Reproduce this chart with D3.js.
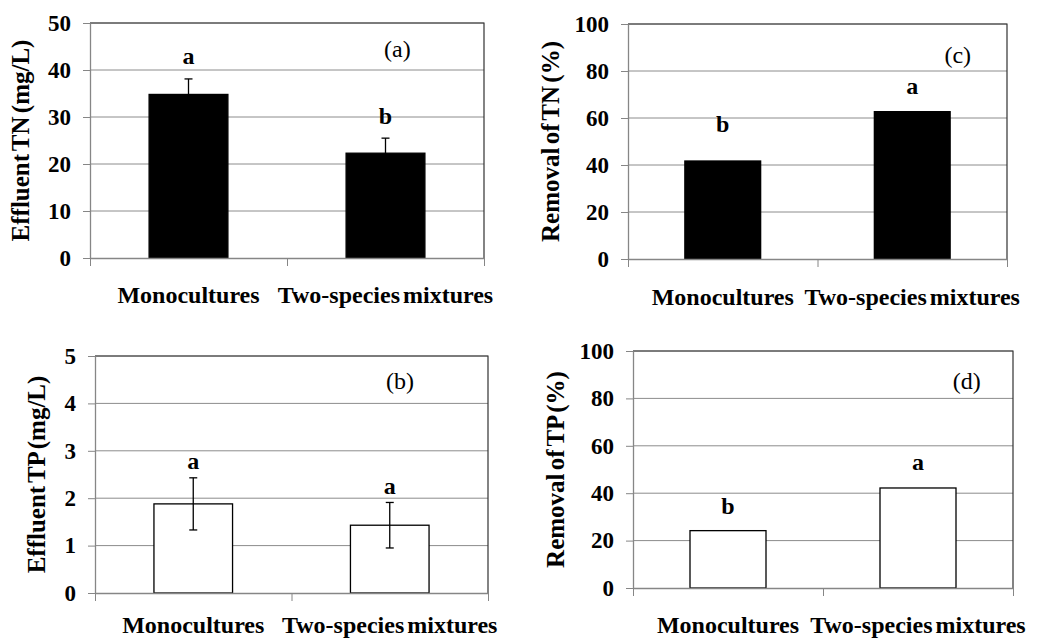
<!DOCTYPE html>
<html>
<head>
<meta charset="utf-8">
<script src="https://cdn.jsdelivr.net/npm/d3@7"></script>
<style>
  body { margin: 0; background: #fff; }
  svg { font-family: 'Liberation Serif', 'Times New Roman', serif; }
</style>
</head>
<body>
<div id="chart"></div>
<script>
// data
const categories = ['Monocultures', 'Two-species mixtures'];

const effluentTN = [34.8, 22.3];
const effluentTNErr = [3.3, 3.2];
const effluentTNLetters = ['a', 'b'];
const effluentTNLetterY = [41.3, 28.5];

const effluentTP = [1.88, 1.43];
const effluentTPErr = [0.55, 0.48];
const effluentTPLetters = ['a', 'a'];
const effluentTPLetterY = [2.61, 2.08];

const removalTN = [41.7, 62.7];
const removalTNLetters = ['b', 'a'];
const removalTNLetterY = [54, 70.2];

const removalTP = [24.2, 42.2];
const removalTPLetters = ['b', 'a'];
const removalTPLetterY = [31.1, 49.7];

const ticksTN = [0, 10, 20, 30, 40, 50];
const ticksTP = [0, 1, 2, 3, 4, 5];
const ticksPct = [0, 20, 40, 60, 80, 100];

let width = 1043, height = 640;
const serif = "'Liberation Serif', 'Times New Roman', serif";

let svg = d3.select('#chart')
            .append('svg')
            .attr('width', width)
            .attr('height', height);

// one panel = one small bar chart
function drawPanel(p) {
    let yscale = d3.scaleLinear()
                   .domain([0, d3.max(p.ticks)])
                   .range([p.bottom, p.top]);

    let xscale = d3.scaleBand()
                   .domain(categories)
                   .range([p.left, p.right])
                   .paddingInner(0.6)
                   .paddingOuter(0.3);

    let g = svg.append('g');

    // gridlines
    g.selectAll('.grid')
     .data(p.ticks.slice(1))
     .enter()
     .append('line')
     .attr('x1', p.left)
     .attr('x2', p.right)
     .attr('y1', d => yscale(d))
     .attr('y2', d => yscale(d))
     .attr('stroke', '#8c8c8c')
     .attr('stroke-width', 1);

    // plot border (top and right are darker)
    g.append('path')
     .attr('d', `M${p.left},${p.top}H${p.right}V${p.bottom}`)
     .attr('fill', 'none')
     .attr('stroke', '#333')
     .attr('stroke-width', 1.2);

    // bars
    g.selectAll('.bar')
     .data(p.values)
     .enter()
     .append('rect')
     .attr('x', (d, i) => xscale(categories[i]))
     .attr('y', d => yscale(d))
     .attr('width', xscale.bandwidth())
     .attr('height', d => p.bottom - yscale(d))
     .attr('fill', p.fill)
     .attr('stroke', '#000')
     .attr('stroke-width', 1.3);

    // error bars
    if (p.errors) {
        let cx = i => xscale(categories[i]) + xscale.bandwidth() / 2;
        p.errors.forEach(function(e, i) {
            let v = p.values[i];
            g.append('line')
             .attr('x1', cx(i)).attr('x2', cx(i))
             .attr('y1', yscale(v - e)).attr('y2', yscale(v + e))
             .attr('stroke', '#000').attr('stroke-width', 1.3);
            [v - e, v + e].forEach(function(t) {
                g.append('line')
                 .attr('x1', cx(i) - 4).attr('x2', cx(i) + 4)
                 .attr('y1', yscale(t)).attr('y2', yscale(t))
                 .attr('stroke', '#000').attr('stroke-width', 1.3);
            });
        });
    }

    // y axis
    let yaxis = g.append('g')
                 .attr('transform', `translate(${p.left}, 0)`)
                 .call(d3.axisLeft(yscale)
                         .tickValues(p.ticks)
                         .tickFormat(d3.format('d'))
                         .tickSize(7).tickPadding(12).tickSizeOuter(0));
    yaxis.attr('font-family', serif);
    yaxis.select('.domain').attr('stroke', '#868686').attr('stroke-width', 1.3);
    yaxis.selectAll('.tick line').attr('stroke', '#868686');
    yaxis.selectAll('.tick text')
         .attr('fill', '#000')
         .style('font-size', '23px')
         .style('font-weight', 'bold');

    // x axis: ticks at category boundaries
    let xedges = d3.scaleLinear().domain([0, categories.length]).range([p.left, p.right]);
    let xaxis = g.append('g')
                 .attr('transform', `translate(0, ${p.bottom})`)
                 .call(d3.axisBottom(xedges).ticks(categories.length).tickFormat('').tickSize(8).tickSizeOuter(0));
    xaxis.select('.domain').attr('stroke', '#868686').attr('stroke-width', 1.3);
    xaxis.selectAll('.tick line').attr('stroke', '#868686');

    // category labels
    g.selectAll('.cat')
     .data(categories)
     .enter()
     .append('text')
     .attr('x', d => xscale(d) + xscale.bandwidth() / 2)
     .attr('y', p.bottom + p.catGap)
     .style('text-anchor', 'middle')
     .style('font-size', '24px')
     .style('font-weight', 'bold')
     .style('word-spacing', '-3px')
     .text(d => d);

    // significance letters
    g.selectAll('.letter')
     .data(p.letters)
     .enter()
     .append('text')
     .attr('x', (d, i) => xscale(categories[i]) + xscale.bandwidth() / 2)
     .attr('y', (d, i) => yscale(p.letterY[i]))
     .style('text-anchor', 'middle')
     .style('font-size', '24px')
     .style('font-weight', 'bold')
     .text(d => d);

    // panel tag
    g.append('text')
     .attr('x', p.left + p.tagX * (p.right - p.left))
     .attr('y', p.tagY)
     .style('text-anchor', 'middle')
     .style('font-size', '24px')
     .text(p.tag);

    // y axis label
    g.append('text')
     .attr('transform', `translate(${p.labelX}, ${(p.top + p.bottom) / 2}) rotate(-90)`)
     .style('text-anchor', 'middle')
     .style('font-size', '25px')
     .style('font-weight', 'bold')
     .style('word-spacing', '-3px')
     .text(p.ylabel);
}

drawPanel({
    values: effluentTN, errors: effluentTNErr, letters: effluentTNLetters, letterY: effluentTNLetterY,
    ticks: ticksTN, fill: '#000', tag: '(a)', ylabel: 'Effluent TN (mg/L)',
    left: 90, right: 484, top: 23, bottom: 258, labelX: 29, tagX: 0.78, tagY: 57, catGap: 45
});

drawPanel({
    values: removalTN, errors: null, letters: removalTNLetters, letterY: removalTNLetterY,
    ticks: ticksPct, fill: '#000', tag: '(c)', ylabel: 'Removal of TN (%)',
    left: 628, right: 1007, top: 24, bottom: 259, labelX: 559, tagX: 0.87, tagY: 63, catGap: 46
});

drawPanel({
    values: effluentTP, errors: effluentTPErr, letters: effluentTPLetters, letterY: effluentTPLetterY,
    ticks: ticksTP, fill: '#fff', tag: '(b)', ylabel: 'Effluent TP (mg/L)',
    left: 95, right: 488, top: 356, bottom: 593, labelX: 45, tagX: 0.776, tagY: 389, catGap: 40
});

drawPanel({
    values: removalTP, errors: null, letters: removalTPLetters, letterY: removalTPLetterY,
    ticks: ticksPct, fill: '#fff', tag: '(d)', ylabel: 'Removal of TP (%)',
    left: 633, right: 1013, top: 351, bottom: 588, labelX: 564, tagX: 0.878, tagY: 389, catGap: 45
});
</script>
</body>
</html>
